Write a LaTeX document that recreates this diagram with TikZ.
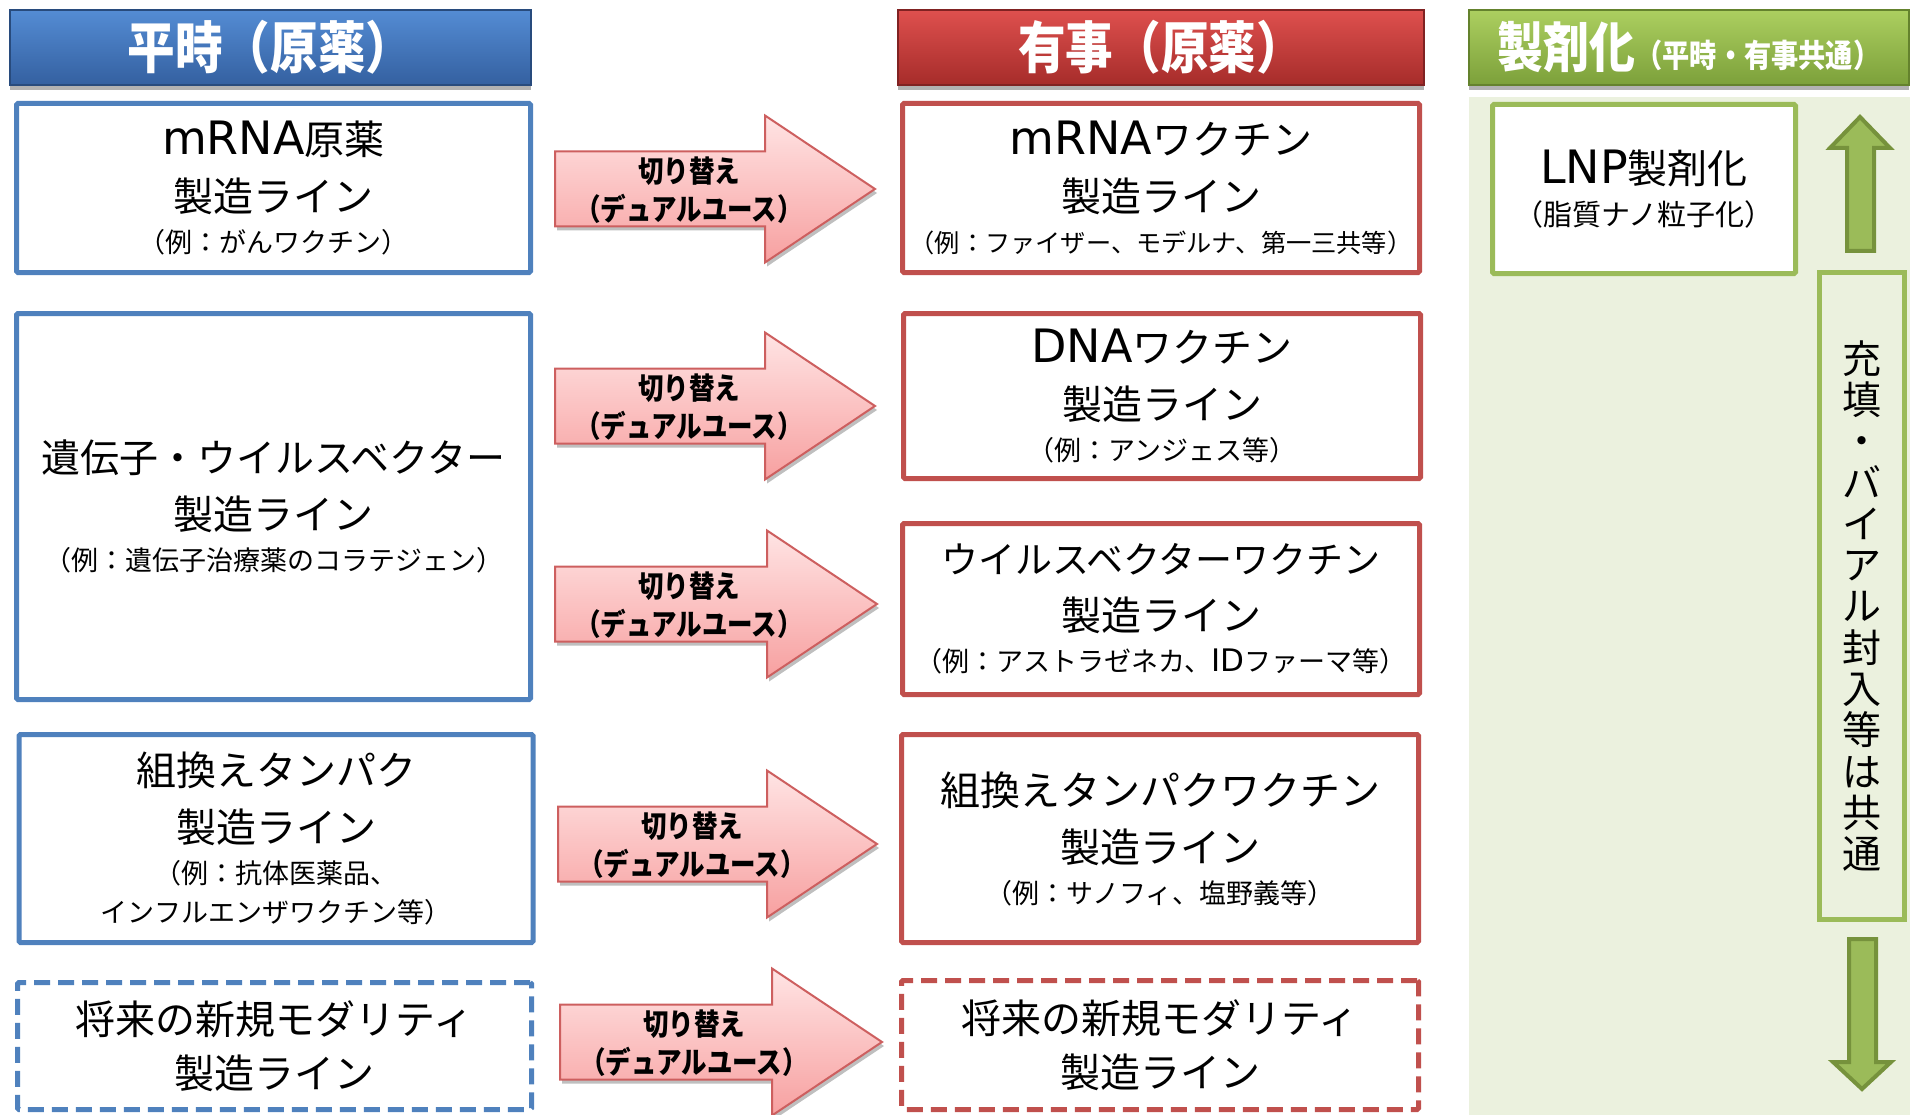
\documentclass[tikz,border=0pt]{standalone}
\usepackage{fontspec}
\setmainfont{Noto Sans CJK JP}
\newfontfamily\hdfont[FakeStretch=0.85]{Noto Sans CJK JP}
\newfontfamily\latfont[Scale=1.15]{DejaVu Sans}
\usetikzlibrary{shadows}
\definecolor{bluebd}{RGB}{79,129,189}
\definecolor{redbd}{RGB}{192,80,77}
\definecolor{grnbd}{RGB}{155,187,89}
\definecolor{grnbg}{RGB}{235,241,222}
\definecolor{grndk}{RGB}{118,146,60}
\definecolor{pinktop}{RGB}{255,228,228}
\definecolor{pinkbot}{RGB}{247,160,160}
\definecolor{pinkbd}{RGB}{205,95,95}
\definecolor{bluetop}{RGB}{84,140,212}
\definecolor{bluebot}{RGB}{52,96,160}
\definecolor{bluedk}{RGB}{40,75,125}
\definecolor{redtop}{RGB}{222,80,78}
\definecolor{redbot}{RGB}{166,44,42}
\definecolor{reddk}{RGB}{128,34,34}
\definecolor{grntop}{RGB}{172,207,96}
\definecolor{grnbot}{RGB}{124,160,58}
\definecolor{grnhd}{RGB}{100,130,45}
\newcommand{\bigtx}{\fontsize{40}{47}\selectfont}
\newcommand{\midtx}{\fontsize{39}{47}\selectfont}
\newcommand{\smtx}{\fontsize{27}{47}\selectfont}
\newcommand{\lat}[1]{{\latfont #1}}
\newcommand{\dualarrow}[4]{%
  \path[pinkarrow] (#2,#4-37.5) -- (#3-110,#4-37.5) -- (#3-110,#4-73.5) -- (#3,#4)
     -- (#3-110,#4+73.5) -- (#3-110,#4+37.5) -- (#2,#4+37.5) -- cycle;
  \node[arrowtxt] (#1) at (#2+134,#4+1) {切り替え\\（デュアルユース）};
}
\tikzset{
  basebox/.style={draw, line width=5pt, fill=white, inner sep=0pt, align=center,
    font=\bigtx, rounded corners=1.5pt},
  lbox/.style={basebox, draw=bluebd, minimum width=514pt},
  rbox/.style={basebox, draw=redbd, minimum width=517pt},
  dashbox/.style={dash pattern=on 16pt off 8pt},
  hdr/.style={draw, line width=1.5pt, minimum height=75pt, inner sep=0pt, text=white,
    font=\hdfont\bfseries\fontsize{56}{60}\selectfont,
    drop shadow={shadow xshift=0pt, shadow yshift=-5pt, opacity=0.3, fill=black}},
  pinkarrow/.style={draw=pinkbd, line width=2pt, top color=pinktop, bottom color=pinkbot,
    line join=miter,
    drop shadow={shadow xshift=2pt, shadow yshift=-4pt, opacity=0.25, fill=black}},
  arrowtxt/.style={align=center, inner sep=0pt,
    font=\hdfont\bfseries\fontsize{30}{38}\selectfont},
  grnarrow/.style={fill=grnbd, draw=grndk, line width=4pt, line join=miter},
}
\begin{document}
\begin{tikzpicture}[x=1pt,y=-1pt]
\useasboundingbox (0,0) rectangle (1910,1115);
% green background panel
\fill[grnbg] (1469,97) rectangle (1910,1115);
% headers
\node[hdr, draw=bluedk, top color=bluetop, bottom color=bluebot, minimum width=521pt]
  (hblue) at (270.5,47.5) {平時（原薬）};
\node[hdr, draw=reddk, top color=redtop, bottom color=redbot, minimum width=526pt]
  (hred) at (1161,47.5) {有事（原薬）};
\node[hdr, draw=grnhd, top color=grntop, bottom color=grnbot, minimum width=440pt]
  (hgreen) at (1689,47.5) {{\fontsize{54}{60}\selectfont 製剤化}{\fontsize{32}{36}\selectfont （平時・有事共通）}};
% left column
\node[lbox, minimum height=169pt] (l1) at (273.5,188)
  {\lat{mRNA}原薬\\[10pt]製造ライン\\[-6pt]\smtx（例：がんワクチン）};
\node[lbox, minimum height=386pt] (l2) at (273.5,506.5)
  {\midtx 遺伝子・ウイルスベクター\\[10pt]製造ライン\\[-6pt]\smtx（例：遺伝子治療薬のコラテジェン）};
\node[lbox, minimum height=208pt] (l3) at (276,838.5)
  {組換えタンパク\\[10pt]製造ライン\\[-6pt]\smtx（例：抗体医薬品、\\[-8pt]\smtx インフルエンザワクチン等）};
\node[lbox, dashbox, minimum height=127pt] (l4) at (274.5,1046)
  {将来の新規モダリティ\\[7pt]製造ライン};
% right column
\node[rbox, minimum height=169pt] (r1) at (1161,188)
  {\lat{mRNA}ワクチン\\[10pt]製造ライン\\[-6pt]\fontsize{25.2}{47}\selectfont（例：ファイザー、モデルナ、第一三共等）};
\node[rbox, minimum height=165pt] (r2) at (1162,396)
  {\lat{DNA}ワクチン\\[10pt]製造ライン\\[-6pt]\smtx（例：アンジェス等）};
\node[rbox, minimum height=171pt] (r3) at (1161,609)
  {\fontsize{37}{47}\selectfont ウイルスベクターワクチン\\[10pt]製造ライン\\[-6pt]\smtx（例：アストラゼネカ、\lat{ID}ファーマ等）};
\node[rbox, minimum height=208pt] (r4) at (1160,838.5)
  {組換えタンパクワクチン\\[10pt]製造ライン\\[-6pt]\smtx（例：サノフィ、塩野義等）};
\node[rbox, dashbox, minimum height=129pt] (r5) at (1160,1045)
  {将来の新規モダリティ\\[7pt]製造ライン};
% dual-use arrows
\dualarrow{a1}{555}{875}{189}
\dualarrow{a2}{555}{875}{406}
\dualarrow{a3}{555}{877}{604}
\dualarrow{a4}{558}{877}{844}
\dualarrow{a5}{560}{882}{1042}
% formulation column
\node[basebox, draw=grnbd, minimum width=303pt, minimum height=169pt] (lnp) at (1644,189)
  {\lat{LNP}製剤化\\[-5pt]{\fontsize{29}{36}\selectfont（脂質ナノ粒子化）}};
\node[draw=grnbd, line width=5pt, inner sep=0pt, minimum width=85pt, minimum height=647pt]
  (fill) at (1862,596) {};
\node[align=center, inner sep=0pt, font=\fontsize{39}{41.3}\selectfont] (filltxt) at (1862,606)
  {充\\填\\・\\バ\\イ\\ア\\ル\\封\\入\\等\\は\\共\\通};
\path[grnarrow] (1860,117) -- (1890,148) -- (1874,148) -- (1874,251) -- (1847,251)
  -- (1847,148) -- (1830,148) -- cycle;
\path[grnarrow] (1849,939) -- (1876,939) -- (1876,1062) -- (1891,1062) -- (1862,1089)
  -- (1833,1062) -- (1849,1062) -- cycle;
\end{tikzpicture}
\end{document}
